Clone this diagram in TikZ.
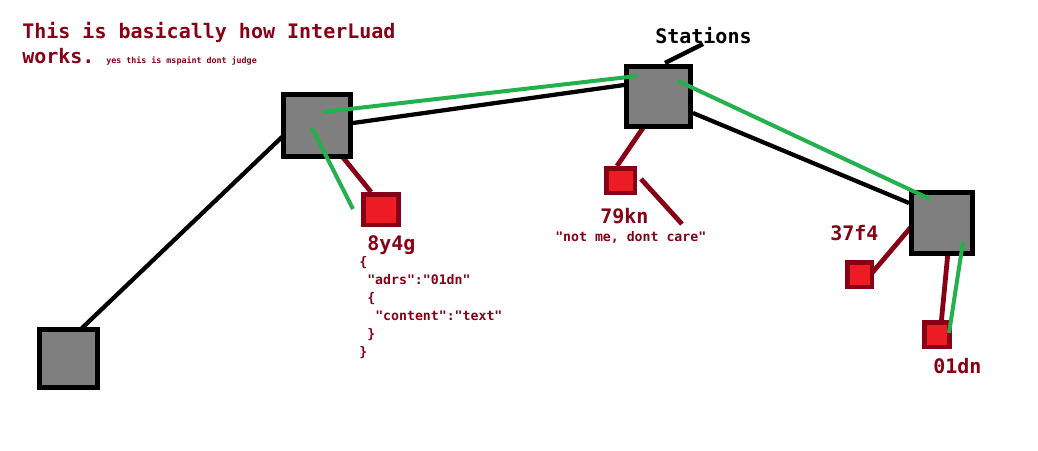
\documentclass[tikz,border=0pt]{standalone}
\usepackage{fontspec}
\setmonofont{DejaVu Sans Mono}
\usepackage{tikz}
\usetikzlibrary{calc}
\usetikzlibrary{backgrounds}
\definecolor{paintred}{HTML}{880015}
\definecolor{paintfill}{HTML}{ED1C24}
\definecolor{paintgreen}{HTML}{22B14C}
\definecolor{paintgray}{HTML}{7F7F7F}
\tikzset{
  station/.style={rectangle,draw=black,fill=paintgray,line width=3.75pt,inner sep=0pt},
  endpoint/.style={rectangle,draw=paintred,fill=paintfill,line width=3.4pt,inner sep=0pt},
  wire/.style={draw=black,line width=3.2pt},
  route/.style={draw=paintgreen,line width=3pt},
  link/.style={draw=paintred,line width=3.6pt},
  big/.style={font=\ttfamily\bfseries\fontsize{15}{18}\selectfont,inner sep=0pt,anchor=base west},
  json/.style={font=\ttfamily\bfseries\fontsize{9.9}{12}\selectfont,text=paintred,inner sep=0pt,anchor=base west}
}

\begin{document}
\begin{tikzpicture}[x=0.75pt,y=-0.75pt]
\useasboundingbox (0,0) rectangle (1038,450);

\node[big,text=paintred] (title1) at (22,38) {This is basically how InterLuad};
\node[big,text=paintred] (title2) at (22,63) {works.};
\node[json,font=\ttfamily\bfseries\fontsize{6.25}{8}\selectfont] (joke) at (106,63) {yes this is mspaint dont judge};

\node[station,minimum width=43.5pt,minimum height=43.5pt] (stA) at (68.5,358.5) {};
\node[station,minimum width=50.25pt,minimum height=46.5pt] (stB) at (317,125.5) {};
\node[station,minimum width=48pt,minimum height=45pt] (stC) at (658.5,96.5) {};
\node[station,minimum width=45.75pt,minimum height=45.75pt] (stD) at (942,223) {};

\node[endpoint,minimum width=26.6pt,minimum height=22.9pt] (n8y4g) at (381,209.5) {};
\node[endpoint,minimum width=21.4pt,minimum height=18.4pt] (n79kn) at (620.5,180.5) {};
\node[endpoint,minimum width=18.4pt,minimum height=18.4pt] (n37f4) at (859.5,274.5) {};
\node[endpoint,minimum width=19.1pt,minimum height=18.4pt] (n01dn) at (937,334.5) {};

\node[big,text=black] (stations) at (655,43) {Stations};
\node[big,text=paintred] (l8y4g) at (367,250) {8y4g};
\node[big,text=paintred] (l79kn) at (600,223) {79kn};
\node[big,text=paintred] (l37f4) at (830,240) {37f4};
\node[big,text=paintred] (l01dn) at (933,373) {01dn};
\node[json] (care) at (555,241) {"not me, dont care"};

\node[json] (j1) at (359,266) {\{};
\node[json] (j2) at (367,284) {"adrs":"01dn"};
\node[json] (j3) at (367,302) {\{};
\node[json] (j4) at (375,320) {"content":"text"};
\node[json] (j5) at (367,338) {\}};
\node[json] (j6) at (359,356) {\}};

\coordinate (ptr) at (703,44);
\coordinate (nope) at (682,224);

\begin{scope}[on background layer]
\draw[wire] ($(stA)+(11.5,-28.5)$) -- ($(stB)+(-35,11.5)$);
\draw[wire] ($(stB)+(36,-2.5)$) -- ($(stC)+(-34.5,-11.5)$);
\draw[wire] ($(stC)+(34.5,16.5)$) -- ($(stD)+(-33,-20)$);
\draw[wire] ($(stC)+(6.5,-33.5)$) -- (ptr);
\draw[link] ($(stB)+(24,29.5)$) -- ($(n8y4g)+(-10,-17.5)$);
\draw[link] ($(stC)+(-13.5,28.5)$) -- ($(n79kn)+(-3.5,-14.5)$);
\draw[link] ($(n79kn)+(20.5,-1.5)$) -- (nope);
\draw[link] ($(stD)+(-31,4)$) -- ($(n37f4)+(12.5,-1.5)$);
\draw[link] ($(stD)+(6,29)$) -- ($(n01dn)+(4,-9.5)$);
\end{scope}

\draw[route] ($(stB)+(6,-13.5)$) -- ($(stC)+(-21.5,-20.5)$);
\draw[route] ($(stB)+(-5,2.5)$) -- ($(n8y4g)+(-28,-0.5)$);
\draw[route] ($(stC)+(19.5,-15.5)$) -- ($(stD)+(-12,-24)$);
\draw[route] ($(stD)+(21,19)$) -- ($(n01dn)+(12,-1.5)$);

\end{tikzpicture}
\end{document}
